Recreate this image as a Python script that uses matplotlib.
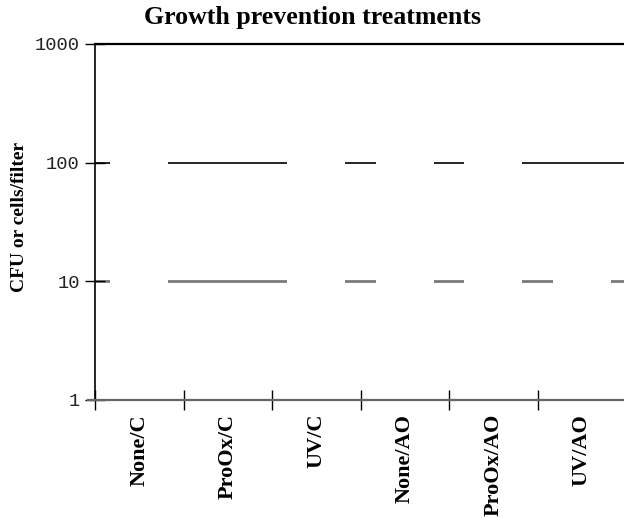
import numpy as np
import matplotlib
matplotlib.use("Agg")
import matplotlib.pyplot as plt

# data (bars are drawn white in the original, only visible where they hide the grid)
treatments = ["None/C", "ProOx/C", "UV/C", "None/AO", "ProOx/AO", "UV/AO"]
cfu = [500, 3, 300, 200, 400, 40]
y_ticks = [1, 10, 100, 1000]
y_labels = ["1", "10", "100", "1000"]

SERIF = "Liberation Serif"
MONO = "Liberation Mono"

fig = plt.figure(figsize=(6.24, 5.18), dpi=100)
ax = fig.add_axes([95 / 624, 118 / 518, 531 / 624, 356 / 518])

x = np.arange(len(treatments))
ax.bar(x, cfu, width=0.66, bottom=1, color="white", edgecolor="none", zorder=2)

ax.set_yscale("log")
ax.set_ylim(1, 1000)
ax.set_xlim(-0.5, len(treatments) - 0.5)
ax.set_yticks(y_ticks, labels=y_labels)
ax.yaxis.set_minor_locator(matplotlib.ticker.NullLocator())
for lab in ax.get_yticklabels():
    lab.set_fontfamily(MONO)
    lab.set_fontsize(13.5)
    lab.set_color("#222222")
ax.tick_params(axis="y", direction="inout", length=14, width=1, color="black", pad=4)

# horizontal grid: 10 grey/thick, 100 thin black
ax.set_axisbelow(True)
ax.yaxis.grid(True)
for val, gl in zip(y_ticks, ax.yaxis.get_gridlines()):
    if val == 10:
        gl.set_color("#7a7a7a"); gl.set_linewidth(2.0)
    elif val == 100:
        gl.set_color("black"); gl.set_linewidth(1.2)
    else:
        gl.set_visible(False)

# x: separators at category boundaries, labels at centers
ax.set_xticks(np.arange(len(treatments) + 1) - 0.5)
ax.set_xticklabels([])
ax.set_xticks(x, minor=True)
ax.set_xticklabels(treatments, minor=True, rotation=90, fontfamily=SERIF,
                   fontweight="bold", fontsize=16, va="top")
ax.tick_params(axis="x", which="major", direction="inout", length=14, width=1, color="black")
ax.tick_params(axis="x", which="minor", length=0, pad=10)

ax.spines["right"].set_visible(False)
ax.spines["top"].set_color("black")
ax.spines["top"].set_linewidth(1.6)
ax.spines["left"].set_color("black")
ax.spines["left"].set_linewidth(1.2)
ax.spines["bottom"].set_color("#666666")
ax.spines["bottom"].set_linewidth(1.6)
ax.spines["bottom"].set_bounds(-0.5 - 7 / 88.5, len(treatments) - 0.5)

ax.set_ylabel("CFU or cells/filter", fontfamily=SERIF, fontweight="bold", fontsize=14)
ax.yaxis.set_label_coords(-67 / 531, 0.514)

fig.suptitle("Growth prevention treatments", x=0.5, y=1 - 6 / 518, va="top",
             fontfamily=SERIF, fontweight="bold", fontsize=18.6)

fig.savefig("out.png", dpi=100)
